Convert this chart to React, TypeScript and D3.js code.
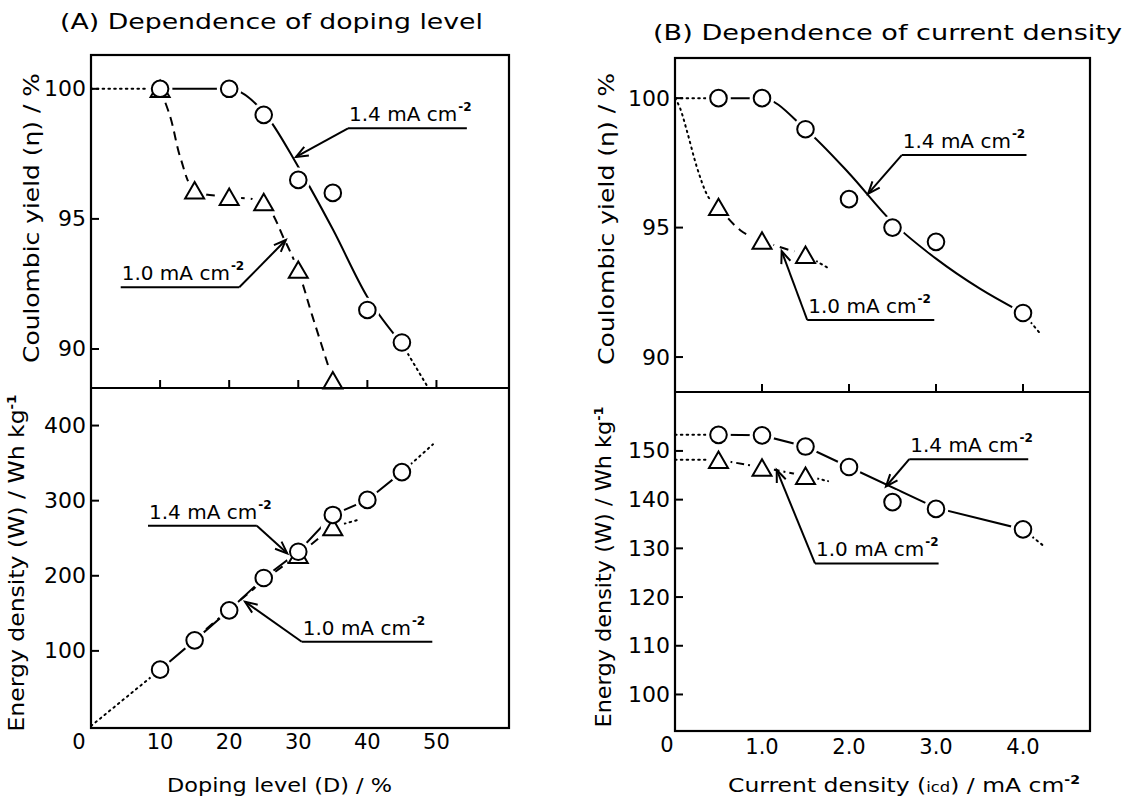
import React from 'react';
import * as d3 from 'd3';

type P = [number, number];

// ---------- tick values ----------
const dopingTicks = [10, 20, 30, 40, 50];
const currentTicks = [1, 2, 3, 4];
const yieldTicks = [90, 95, 100];
const energyTicksA = [100, 200, 300, 400];
const energyTicksB = [100, 110, 120, 130, 140, 150];

// ---------- (A) top: coulombic yield vs doping level ----------
const yieldA14: P[] = [[10, 100], [20, 100], [25, 99.0], [30, 96.5], [35, 96.0], [40, 91.5], [45, 90.25]];
const yieldA10: P[] = [[10, 100], [15, 96.1], [20, 95.85], [25, 95.65], [30, 93.05], [35, 88.8]];
const yieldA14Fit: P[] = [[10, 100], [20, 100], [25, 99.1], [30, 97.0], [35, 94.6], [40, 92.0], [45, 90.2]];
const yieldA14Lead: P[] = [[0, 100], [10, 100]];
const yieldA14Tail: P[] = [[45, 90.2], [48.6, 88.6]];
const yieldA10Fit: P[] = [[10, 100], [11.5, 98.9], [13, 97.3], [15, 96.1], [20, 95.85], [25, 95.6], [28, 94.2], [30, 93.0], [32, 91.3], [35, 88.8]];

// ---------- (A) bottom: energy density vs doping level ----------
const energyA14: P[] = [[10, 75], [15, 114], [20, 154], [25, 197], [30, 232], [35, 281], [40, 301], [45, 338]];
const energyA10: P[] = [[30, 228], [35, 265]];
const energyA14Lead: P[] = [[0, 0], [10, 75]];
const energyA14Tail: P[] = [[45, 338], [49.5, 375]];
const energyA10Fit: P[] = [[15, 116], [20, 155], [25, 194], [30, 228], [35, 265]];
const energyA10Tail: P[] = [[35, 265], [38.5, 274]];

// ---------- (B) top: coulombic yield vs current density ----------
const yieldB14: P[] = [[0.5, 100], [1.0, 100], [1.5, 98.8], [2.0, 96.1], [2.5, 95.0], [3.0, 94.45], [4.0, 91.7]];
const yieldB10: P[] = [[0.5, 95.8], [1.0, 94.5], [1.5, 93.95]];
const yieldB14Fit: P[] = [[0.5, 100], [1.0, 100], [1.5, 98.8], [2.0, 97.1], [2.5, 95.2], [3.0, 93.8], [3.5, 92.65], [4.0, 91.7]];
const yieldB14Lead: P[] = [[0, 100], [0.5, 100]];
const yieldB14Tail: P[] = [[4.0, 91.7], [4.2, 90.9]];
const yieldB10Lead: P[] = [[0, 100], [0.06, 99.6], [0.134, 98.77], [0.25, 97.35], [0.364, 96.3], [0.5, 95.8]];
const yieldB10Fit: P[] = [[0.5, 95.8], [0.75, 94.9], [1.0, 94.5], [1.25, 94.2], [1.5, 93.95]];
const yieldB10Tail: P[] = [[1.5, 93.95], [1.78, 93.4]];

// ---------- (B) bottom: energy density vs current density ----------
const energyB14: P[] = [[0.5, 153.3], [1.0, 153.2], [1.5, 150.9], [2.0, 146.7], [2.5, 139.5], [3.0, 138.1], [4.0, 133.9]];
const energyB10: P[] = [[0.5, 148.2], [1.0, 146.6], [1.5, 144.9]];
const energyB14Fit: P[] = [[0.5, 153.3], [1.0, 153.2], [1.5, 150.9], [2.0, 146.7], [3.0, 138.3], [4.0, 133.9]];
const energyB14Lead: P[] = [[0, 153.3], [0.5, 153.3]];
const energyB14Tail: P[] = [[4.0, 133.9], [4.23, 130.6]];
const energyB10Lead: P[] = [[0, 148.2], [0.5, 148.2]];
const energyB10Tail: P[] = [[1.5, 144.9], [1.76, 143.8]];

// ---------- annotation labels (data coordinates) ----------
type Ann = { label: string; lineY: number; x0: number; x1: number; tip: P; from: 'left' | 'right' };
const annAtop: Ann[] = [
  { label: '1.4', lineY: 98.48, x0: 37.2, x1: 54.4, tip: [29.67, 97.38], from: 'left' },
  { label: '1.0', lineY: 92.37, x0: 4.3, x1: 21.46, tip: [28.2, 94.19], from: 'right' },
];
const annAbot: Ann[] = [
  { label: '1.4', lineY: 266.7, x0: 8.25, x1: 24.0, tip: [28.4, 229.9], from: 'right' },
  { label: '1.0', lineY: 112.2, x0: 30.5, x1: 49.4, tip: [22.3, 165.5], from: 'left' },
];
const annBtop: Ann[] = [
  { label: '1.4', lineY: 97.8, x0: 2.606, x1: 4.04, tip: [2.22, 96.31], from: 'left' },
  { label: '1.0', lineY: 91.43, x0: 1.52, x1: 2.98, tip: [1.226, 94.09], from: 'left' },
];
const annBbot: Ann[] = [
  { label: '1.4', lineY: 148.3, x0: 2.693, x1: 4.06, tip: [2.425, 142.7], from: 'left' },
  { label: '1.0', lineY: 126.9, x0: 1.609, x1: 3.03, tip: [1.169, 146.1], from: 'left' },
];

const FONT = '"DejaVu Sans", "Liberation Sans", sans-serif';
const W = 1129;
const H = 797;

// scales
const xA = d3.scaleLinear().domain([0, 60.5]).range([91, 509]);
const yAt = d3.scaleLinear().domain([88.5, 101.3]).range([388, 55]);
const yAb = d3.scaleLinear().domain([0, 450]).range([726, 388]);
const xB = d3.scaleLinear().domain([0, 4.77]).range([675, 1090]);
const yBt = d3.scaleLinear().domain([88.65, 101.55]).range([392, 58]);
const yBb = d3.scaleLinear().domain([92.5, 162.1]).range([731, 392]);

type Sc = d3.ScaleLinear<number, number>;

const DOT = '1.6,4.2';
const DASH = '9,6';
const DASHDOT = '8,4,2,4';

function pathOf(x: Sc, y: Sc, pts: P[], curve: d3.CurveFactory = d3.curveMonotoneX) {
  return d3.line<P>().x((d) => x(d[0])).y((d) => y(d[1])).curve(curve)(pts) || '';
}

function Curve({ x, y, pts, dash, curve }: { x: Sc; y: Sc; pts: P[]; dash?: string; curve?: d3.CurveFactory }) {
  return (
    <path
      d={pathOf(x, y, pts, curve)}
      fill="none"
      stroke="#000"
      strokeWidth={2}
      strokeDasharray={dash}
      strokeLinecap={dash === DOT ? 'round' : 'butt'}
    />
  );
}

const R = 8.3;
function triPts(cx: number, cy: number) {
  const hw = 9.5;
  const hh = 8.2;
  return `${cx},${cy - hh} ${cx + hw},${cy + hh} ${cx - hw},${cy + hh}`;
}

function Halos({ x, y, circles, tris }: { x: Sc; y: Sc; circles: P[]; tris: P[] }) {
  return (
    <g fill="#fff">
      {circles.map((d, i) => (
        <circle key={'c' + i} cx={x(d[0])} cy={y(d[1])} r={R + 4} />
      ))}
      {tris.map((d, i) => (
        <circle key={'t' + i} cx={x(d[0])} cy={y(d[1]) + 1} r={12} />
      ))}
    </g>
  );
}

function Markers({ x, y, circles, tris }: { x: Sc; y: Sc; circles: P[]; tris: P[] }) {
  return (
    <g fill="#fff" stroke="#000" strokeWidth={2}>
      {tris.map((d, i) => (
        <polygon key={'t' + i} points={triPts(x(d[0]), y(d[1]))} strokeLinejoin="miter" />
      ))}
      {circles.map((d, i) => (
        <circle key={'c' + i} cx={x(d[0])} cy={y(d[1])} r={R} />
      ))}
    </g>
  );
}

function Annotation({ a, x, y }: { a: Ann; x: Sc; y: Sc }) {
  const ly = y(a.lineY);
  const lx0 = x(a.x0);
  const lx1 = x(a.x1);
  const sx = a.from === 'left' ? lx0 : lx1;
  const tx = x(a.tip[0]);
  const ty = y(a.tip[1]);
  const ang = Math.atan2(ty - ly, tx - sx);
  const L = 13;
  const spread = 0.38;
  const h1: P = [tx - L * Math.cos(ang - spread), ty - L * Math.sin(ang - spread)];
  const h2: P = [tx - L * Math.cos(ang + spread), ty - L * Math.sin(ang + spread)];
  return (
    <g>
      <text x={lx0 + 1} y={ly - 7} fontFamily={FONT} fontSize={20} fill="#000">
        {a.label + ' mA cm'}
        <tspan dx={1} dy={-10} fontSize={12} fontWeight="bold">
          -2
        </tspan>
      </text>
      <polyline points={`${lx1},${ly} ${lx0},${ly}`} fill="none" stroke="#000" strokeWidth={2} />
      <line x1={sx} y1={ly} x2={tx} y2={ty} stroke="#000" strokeWidth={2} />
      <polyline
        points={`${h1[0]},${h1[1]} ${tx},${ty} ${h2[0]},${h2[1]}`}
        fill="none"
        stroke="#000"
        strokeWidth={2}
      />
    </g>
  );
}

function YTicks({ x0, y, ticks, fmt }: { x0: number; y: Sc; ticks: number[]; fmt?: (v: number) => string }) {
  return (
    <g>
      {ticks.map((t) => (
        <g key={t}>
          <line x1={x0} x2={x0 + 8} y1={y(t)} y2={y(t)} stroke="#000" strokeWidth={2} />
          <text
            x={x0 - 5}
            y={y(t)}
            textAnchor="end"
            dominantBaseline="central"
            fontFamily={FONT}
            fontSize={22}
            fill="#000"
          >
            {fmt ? fmt(t) : String(t)}
          </text>
        </g>
      ))}
    </g>
  );
}

function XTicks({ x, yDiv, yLab, ticks, fmt }: { x: Sc; yDiv: number; yLab: number; ticks: number[]; fmt: (v: number) => string }) {
  return (
    <g>
      {ticks.map((t) => (
        <g key={t}>
          <line x1={x(t)} x2={x(t)} y1={yDiv} y2={yDiv - 8} stroke="#000" strokeWidth={2} />
          <text
            x={x(t)}
            y={yLab}
            textAnchor="middle"
            dominantBaseline="central"
            fontFamily={FONT}
            fontSize={21}
            fill="#000"
          >
            {fmt(t)}
          </text>
        </g>
      ))}
    </g>
  );
}

function VTitle({ bx, cy, len, children }: { bx: number; cy: number; len: number; children: React.ReactNode }) {
  return (
    <text
      transform={`translate(${bx},${cy}) rotate(-90)`}
      textAnchor="middle"
      fontFamily={FONT}
      fontSize={21}
      fill="#000"
      textLength={len}
      lengthAdjust="spacingAndGlyphs"
    >
      {children}
    </text>
  );
}

export default function App() {
  const aTop = yAt;
  const aBot = yAb;
  const bTop = yBt;
  const bBot = yBb;
  return (
    <svg
      width={W}
      height={H}
      viewBox={`0 0 ${W} ${H}`}
      style={{ position: 'absolute', left: 0, top: 0, background: '#fff', display: 'block' }}
    >
      <rect x={0} y={0} width={W} height={H} fill="#fff" />

      {/* Titles */}
      <text x={60} y={29} fontFamily={FONT} fontSize={22} textLength={423} lengthAdjust="spacingAndGlyphs">
        (A) Dependence of doping level
      </text>
      <text x={653} y={40} fontFamily={FONT} fontSize={22} textLength={469} lengthAdjust="spacingAndGlyphs">
        (B) Dependence of current density
      </text>

      {/* ---------------- Panel A ---------------- */}
      <Curve x={xA} y={aTop} pts={yieldA14Lead} dash={DOT} curve={d3.curveLinear} />
      <Curve x={xA} y={aTop} pts={yieldA14Fit} />
      <Curve x={xA} y={aTop} pts={yieldA14Tail} dash={DOT} curve={d3.curveLinear} />
      <Curve x={xA} y={aTop} pts={yieldA10Fit} dash={DASH} curve={d3.curveCatmullRom} />

      <Curve x={xA} y={aBot} pts={energyA14Lead} dash={DOT} curve={d3.curveLinear} />
      <Curve x={xA} y={aBot} pts={energyA14} curve={d3.curveLinear} />
      <Curve x={xA} y={aBot} pts={energyA14Tail} dash={DOT} curve={d3.curveLinear} />
      <Curve x={xA} y={aBot} pts={energyA10Fit} dash={DASH} curve={d3.curveLinear} />
      <Curve x={xA} y={aBot} pts={energyA10Tail} dash={DOT} curve={d3.curveLinear} />

      <Halos x={xA} y={aTop} circles={yieldA14} tris={yieldA10} />
      <Halos x={xA} y={aBot} circles={energyA14} tris={energyA10} />
      <Markers x={xA} y={aTop} circles={yieldA14} tris={yieldA10} />
      <Markers x={xA} y={aBot} circles={energyA14} tris={energyA10} />

      {annAtop.map((a, i) => (
        <Annotation key={'at' + i} a={a} x={xA} y={aTop} />
      ))}
      {annAbot.map((a, i) => (
        <Annotation key={'ab' + i} a={a} x={xA} y={aBot} />
      ))}

      <rect x={xA(0)} y={yAt.range()[1]} width={xA.range()[1] - xA(0)} height={728 - yAt.range()[1]} fill="none" stroke="#000" strokeWidth={2.2} />
      <line x1={xA(0)} x2={xA.range()[1]} y1={yAt.range()[0]} y2={yAt.range()[0]} stroke="#000" strokeWidth={2.2} />

      <YTicks x0={xA(0)} y={aTop} ticks={yieldTicks} />
      <YTicks x0={xA(0)} y={aBot} ticks={energyTicksA} />
      <XTicks x={xA} yDiv={yAt.range()[0]} yLab={742} ticks={dopingTicks} fmt={(v) => String(v)} />
      <text x={79} y={742} textAnchor="middle" dominantBaseline="central" fontFamily={FONT} fontSize={21}>0</text>

      <VTitle bx={39} cy={218} len={290}>Coulombic yield (η) / %</VTitle>
      <VTitle bx={24} cy={563} len={337}>
        {'Energy density (W) / Wh kg'}
        <tspan dy={-8} fontSize={12} fontWeight="bold">-1</tspan>
      </VTitle>
      <text x={279.5} y={792} textAnchor="middle" fontFamily={FONT} fontSize={20} textLength={225} lengthAdjust="spacingAndGlyphs">
        Doping level (D) / %
      </text>

      {/* ---------------- Panel B ---------------- */}
      <Curve x={xB} y={bTop} pts={yieldB14Lead} dash={DOT} curve={d3.curveLinear} />
      <Curve x={xB} y={bTop} pts={yieldB14Fit} />
      <Curve x={xB} y={bTop} pts={yieldB14Tail} dash={DOT} curve={d3.curveLinear} />
      <Curve x={xB} y={bTop} pts={yieldB10Lead} dash={DOT} curve={d3.curveMonotoneX} />
      <Curve x={xB} y={bTop} pts={yieldB10Fit} dash={DASH} />
      <Curve x={xB} y={bTop} pts={yieldB10Tail} dash={DOT} curve={d3.curveLinear} />

      <Curve x={xB} y={bBot} pts={energyB14Lead} dash={DOT} curve={d3.curveLinear} />
      <Curve x={xB} y={bBot} pts={energyB14Fit} curve={d3.curveLinear} />
      <Curve x={xB} y={bBot} pts={energyB14Tail} dash={DOT} curve={d3.curveLinear} />
      <Curve x={xB} y={bBot} pts={energyB10Lead} dash={DOT} curve={d3.curveLinear} />
      <Curve x={xB} y={bBot} pts={energyB10} dash={DASHDOT} curve={d3.curveLinear} />
      <Curve x={xB} y={bBot} pts={energyB10Tail} dash={DOT} curve={d3.curveLinear} />

      <Halos x={xB} y={bTop} circles={yieldB14} tris={yieldB10} />
      <Halos x={xB} y={bBot} circles={energyB14} tris={energyB10} />
      <Markers x={xB} y={bTop} circles={yieldB14} tris={yieldB10} />
      <Markers x={xB} y={bBot} circles={energyB14} tris={energyB10} />

      {annBtop.map((a, i) => (
        <Annotation key={'bt' + i} a={a} x={xB} y={bTop} />
      ))}
      {annBbot.map((a, i) => (
        <Annotation key={'bb' + i} a={a} x={xB} y={bBot} />
      ))}

      <rect x={xB(0)} y={yBt.range()[1]} width={xB.range()[1] - xB(0)} height={yBb.range()[0] - yBt.range()[1]} fill="none" stroke="#000" strokeWidth={2.2} />
      <line x1={xB(0)} x2={xB.range()[1]} y1={yBt.range()[0]} y2={yBt.range()[0]} stroke="#000" strokeWidth={2.2} />

      <YTicks x0={xB(0)} y={bTop} ticks={yieldTicks} />
      <YTicks x0={xB(0)} y={bBot} ticks={energyTicksB} />
      <XTicks x={xB} yDiv={yBt.range()[0]} yLab={747} ticks={currentTicks} fmt={(v) => v.toFixed(1)} />
      <text x={667} y={745} textAnchor="middle" dominantBaseline="central" fontFamily={FONT} fontSize={21}>0</text>

      <VTitle bx={614} cy={219} len={292}>Coulombic yield (η) / %</VTitle>
      <VTitle bx={611} cy={567} len={321}>
        {'Energy density (W) / Wh kg'}
        <tspan dy={-8} fontSize={12} fontWeight="bold">-1</tspan>
      </VTitle>
      <text x={904} y={792} textAnchor="middle" fontFamily={FONT} fontSize={20} textLength={352} lengthAdjust="spacingAndGlyphs">
        {'Current density ('}
        <tspan fontSize={14}>icd</tspan>
        {') / mA cm'}
        <tspan dy={-8} fontSize={12} fontWeight="bold">-2</tspan>
      </text>
    </svg>
  );
}
